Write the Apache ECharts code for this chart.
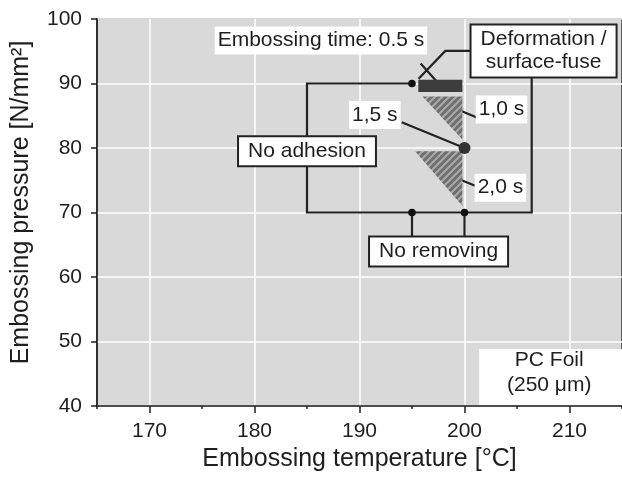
<!DOCTYPE html>
<html>
<head>
<meta charset="utf-8">
<script src="https://cdn.jsdelivr.net/npm/echarts@6/dist/echarts.min.js"></script>
<style>html,body{margin:0;background:#fff}#container{width:622px;height:478px}</style>
</head>
<body>
<div id="container"></div>
<script>
var xMajor = [170, 180, 190, 200, 210];
var xMinor = [165, 175, 185, 195, 205, 215];

// process window, points as [temperature °C, pressure N/mm²]
var windowLine = [[195, 90], [185, 90], [185, 70], [206.4, 70], [206.4, 91.2]];
var removingStems = [[[195, 70], [195, 66.3]], [[200, 70], [200, 66.3]]];
var smallDots = [[195, 90], [195, 70], [200, 70]];
var optimum = [[200, 80]];
var time05 = [[195.6, 88.7], [199.8, 90.6]];
var time10 = [[196, 88], [199.8, 88], [199.8, 81.3]];
var time20 = [[195.3, 79.5], [199.8, 79.5], [199.8, 71]];
var pointers = [
    [[195.82, 93.1], [197.53, 90.0]],
    [[200.54, 95.05], [198.17, 95.05], [195.63, 90.73]],
    [[199.36, 85.96], [201.17, 84.72]],
    [[194.02, 84.0], [200, 80]],
    [[199.18, 75.36], [201.02, 74.16]]
];
var foilArea = [[201.4, 40], [215, 48.85]];
var labels = [
    { text: 'Embossing time: 0.5 s', at: [186.33, 96.68], kind: 'tag' },
    { text: 'Deformation /\nsurface-fuse', at: [207.53, 95.05], kind: 'box' },
    { text: '1,0 s', at: [203.52, 85.96], kind: 'tag' },
    { text: '1,5 s', at: [191.46, 85.1], kind: 'tag' },
    { text: '2,0 s', at: [203.42, 73.85], kind: 'tag' },
    { text: 'No adhesion', at: [185, 79.5], kind: 'box' },
    { text: 'No removing', at: [197.53, 63.96], kind: 'box' },
    { text: 'PC Foil\n(250 μm)', at: [208.07, 45.2], kind: 'plain' }
];

var FONT = '21px "Liberation Sans", Arial, sans-serif';
var INK = '#1e1e1e';

// hatch pattern for the 1.0 s / 2.0 s triangles
var hatch = document.createElement('canvas');
hatch.width = 7; hatch.height = 7;
var hc = hatch.getContext('2d');
hc.fillStyle = '#6e6e6e';
hc.fillRect(0, 0, 7, 7);
hc.strokeStyle = '#a8a8a8';
hc.lineWidth = 2.2;
hc.beginPath();
hc.moveTo(-1, 8); hc.lineTo(8, -1);
hc.moveTo(-8, 8); hc.lineTo(8, -8);
hc.moveTo(-1, 15); hc.lineTo(15, -1);
hc.stroke();

function pts(list, api) {
    return list.map(function (p) { return api.coord(p); });
}

function layer(items, z, build) {
    return {
        type: 'custom',
        coordinateSystem: 'cartesian2d',
        silent: true,
        animation: false,
        z: z,
        data: items.map(function (d, i) { return [i]; }),
        renderItem: function (params, api) {
            return build(items[params.dataIndex], api);
        }
    };
}

var dom = document.getElementById('container');
var myChart = echarts.init(dom, null, { renderer: 'canvas' });

var axisLine = { lineStyle: { color: '#222', width: 1.5 } };

var option = {
    backgroundColor: '#fff',
    animation: false,
    grid: {
        left: 97, top: 19, width: 527, height: 387,
        show: true, backgroundColor: '#d9d9d9', borderColor: '#333', borderWidth: 1.5
    },
    xAxis: [{
        type: 'value', min: 165, max: 215, interval: 5,
        name: 'Embossing temperature [°C]', nameLocation: 'middle', nameGap: 40,
        nameTextStyle: { fontSize: 25, color: INK, fontFamily: 'Liberation Sans' },
        axisLine: axisLine,
        axisTick: { customValues: xMajor, length: 7, lineStyle: { color: '#222', width: 1.5 } },
        axisLabel: { customValues: xMajor, margin: 15, fontSize: 21, color: INK, fontFamily: 'Liberation Sans' },
        splitLine: { show: true, lineStyle: { color: '#fff', width: 1.5 } }
    }, {
        type: 'value', min: 165, max: 215, position: 'bottom',
        axisLine: { show: false },
        axisTick: { customValues: xMinor, length: 3, lineStyle: { color: '#222', width: 1.5 } },
        axisLabel: { show: false },
        splitLine: { show: false }
    }],
    yAxis: {
        type: 'value', min: 40, max: 100, interval: 10,
        name: 'Embossing pressure [N/mm²]', nameLocation: 'middle', nameGap: 63,
        nameTextStyle: { fontSize: 25, color: INK, fontFamily: 'Liberation Sans', padding: [0, 0, 0, 20] },
        axisLine: axisLine,
        axisTick: { length: 6, lineStyle: { color: '#222', width: 1.5 } },
        axisLabel: { margin: 15, fontSize: 21, color: INK, fontFamily: 'Liberation Sans' },
        splitLine: { show: true, lineStyle: { color: '#fff', width: 1.5 } }
    },
    series: [
        layer([foilArea], 1, function (r, api) {
            var a = api.coord(r[0]), b = api.coord(r[1]);
            return { type: 'rect', shape: { x: a[0], y: b[1], width: b[0] - a[0], height: a[1] - b[1] - 1 },
                style: { fill: '#fff' } };
        }),
        layer([windowLine].concat(removingStems, pointers), 2, function (line, api) {
            return { type: 'polyline', shape: { points: pts(line, api) },
                style: { stroke: '#222', lineWidth: 2.2, fill: null } };
        }),
        layer([time05], 3, function (r, api) {
            var a = api.coord(r[0]), b = api.coord(r[1]);
            return { type: 'rect', shape: { x: a[0], y: b[1], width: b[0] - a[0], height: a[1] - b[1] },
                style: { fill: '#3d3d3d' } };
        }),
        layer([time10, time20], 3, function (tri, api) {
            return { type: 'polygon', shape: { points: pts(tri, api) },
                style: { fill: { image: hatch, repeat: 'repeat' } } };
        }),
        layer(smallDots, 4, function (p, api) {
            var c = api.coord(p);
            return { type: 'circle', shape: { cx: c[0], cy: c[1], r: 3.8 }, style: { fill: '#111' } };
        }),
        layer(optimum, 4, function (p, api) {
            var c = api.coord(p);
            return { type: 'circle', shape: { cx: c[0], cy: c[1], r: 6 }, style: { fill: '#333' } };
        }),
        layer(labels, 5, function (l, api) {
            var c = api.coord(l.at);
            var style = { text: l.text, font: FONT, fill: INK, align: 'center', verticalAlign: 'middle', lineHeight: 23 };
            if (l.kind === 'box') {
                style.backgroundColor = '#fff';
                style.borderColor = '#222';
                style.borderWidth = 2;
                style.padding = [3, 9, 2, 9];
            } else if (l.kind === 'tag') {
                style.backgroundColor = '#fff';
                style.padding = [3, 3, 2, 3];
            } else {
                style.lineHeight = 25;
            }
            return { type: 'text', x: c[0], y: c[1], style: style };
        })
    ]
};

myChart.setOption(option);
window.addEventListener('resize', myChart.resize);
</script>
</body>
</html>
